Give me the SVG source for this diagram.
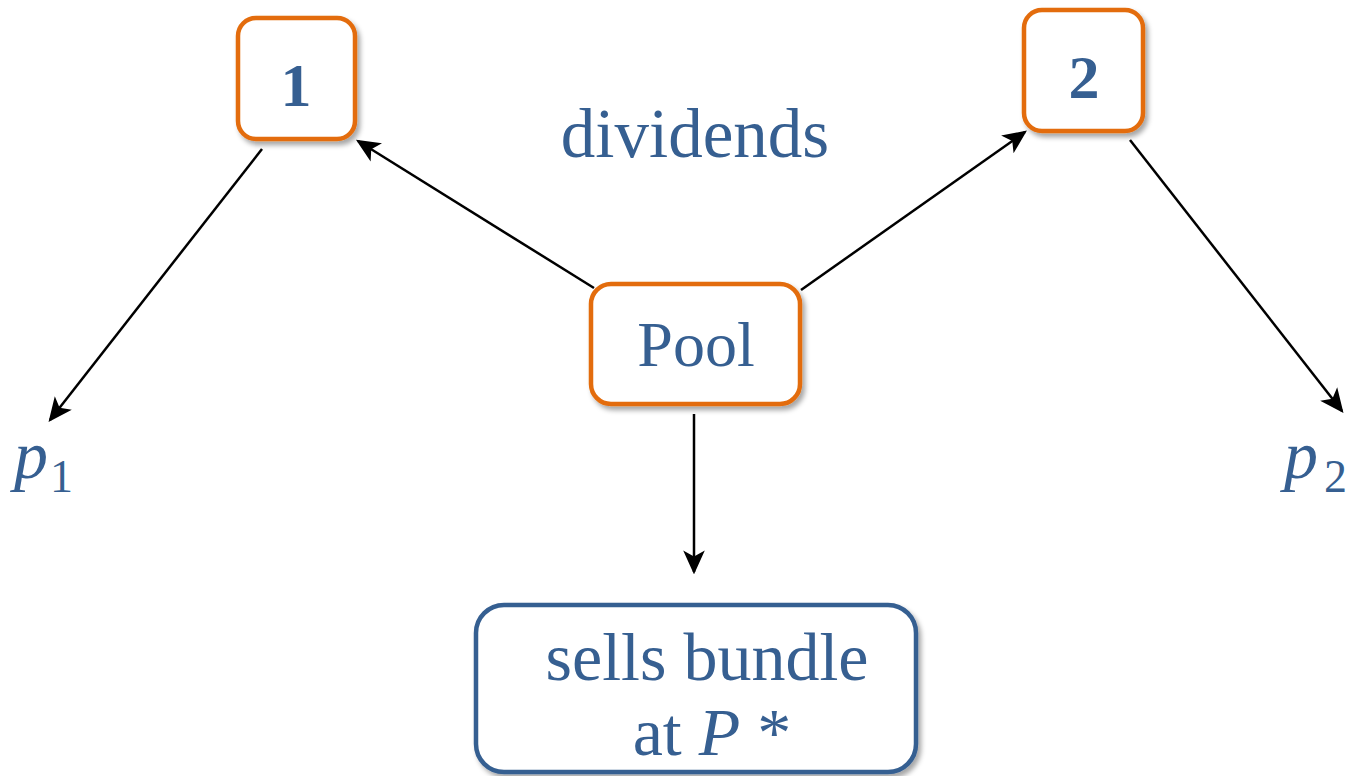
<svg xmlns="http://www.w3.org/2000/svg" width="1369" height="776" viewBox="0 0 1369 776">
<defs>
<filter id="sh" x="-10%" y="-10%" width="130%" height="130%">
<feDropShadow dx="3" dy="4" stdDeviation="2.5" flood-color="#000" flood-opacity="0.35"/>
</filter>
<marker id="ah" viewBox="0 0 20 20" refX="18" refY="10" markerWidth="24" markerHeight="24" markerUnits="userSpaceOnUse" orient="auto">
<path d="M0,1 L20,10 L0,19 L5,10 Z" fill="#000"/>
</marker>
</defs>
<style>
.ob{fill:#fff;stroke:#E36C0A;stroke-width:4.5;filter:url(#sh)}
.bb{fill:#fff;stroke:#365F91;stroke-width:4.5;filter:url(#sh)}
.t{font-family:"Liberation Serif","DejaVu Serif",serif;fill:#365F91}
.c{stroke:#000;stroke-width:2.5;fill:none;marker-end:url(#ah)}
</style>
<g id="connectors">
<line class="c" x1="594" y1="288" x2="358" y2="141"/>
<line class="c" x1="262" y1="149" x2="50" y2="420"/>
<line class="c" x1="801" y1="290" x2="1025" y2="132"/>
<line class="c" x1="1130" y1="140" x2="1342" y2="411"/>
<line class="c" x1="694" y1="414" x2="694" y2="572"/>
</g>
<g id="node1">
<rect class="ob" x="238" y="18" width="117" height="121" rx="18"/>
<text class="t" x="296" y="106" font-size="62" font-weight="bold" text-anchor="middle">1</text>
</g>
<g id="node2">
<rect class="ob" x="1024" y="10" width="119" height="121" rx="18"/>
<text class="t" x="1084" y="98" font-size="62" font-weight="bold" text-anchor="middle">2</text>
</g>
<g id="pool">
<rect class="ob" x="591" y="284" width="209" height="120" rx="20"/>
<text class="t" x="696" y="366" font-size="64" text-anchor="middle">Pool</text>
</g>
<g id="dividends">
<text class="t" x="695" y="157" font-size="69" text-anchor="middle">dividends</text>
</g>
<g id="bundle">
<rect class="bb" x="476" y="605" width="440" height="167" rx="28"/>
<text class="t" x="707" y="680" font-size="68" text-anchor="middle">sells bundle</text>
<text class="t" x="712" y="755" font-size="68" text-anchor="middle">at <tspan font-style="italic">P</tspan> *</text>
</g>
<g id="p1">
<text class="t" x="14" y="478" font-size="68" font-style="italic">p<tspan font-style="normal" font-size="46" dy="14" dx="2">1</tspan></text>
</g>
<g id="p2">
<text class="t" x="1284" y="478" font-size="68" font-style="italic">p<tspan font-style="normal" font-size="46" dy="14" dx="6">2</tspan></text>
</g>
</svg>
